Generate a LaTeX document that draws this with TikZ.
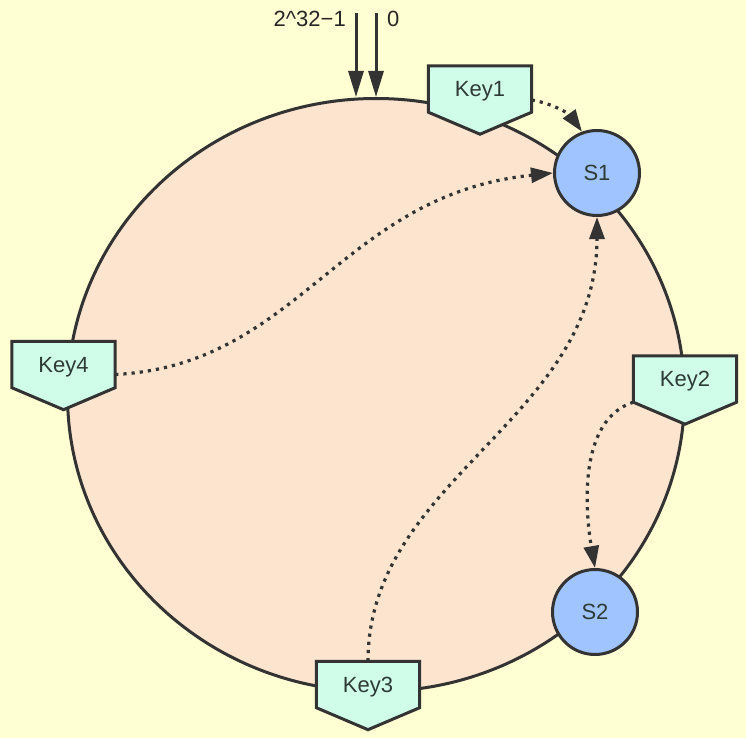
\documentclass[tikz,border=0pt]{standalone}
\usepackage{fontspec}
\setmainfont{Liberation Sans}
\usetikzlibrary{arrows.meta,shapes.geometric,calc}
\definecolor{bgc}{HTML}{FFFFD4}
\definecolor{ringc}{HTML}{FCE4CF}
\definecolor{keyc}{HTML}{D0FDEA}
\definecolor{srvc}{HTML}{A0C4FF}
\definecolor{inkc}{HTML}{333333}
\definecolor{txtc}{HTML}{2E3A36}
\pgfdeclarelayer{bg}
\pgfsetlayers{bg,main}
\begin{document}
\begin{tikzpicture}[x=1pt,y=-1pt,
  ink/.style={draw=inkc, line width=3pt},
  keytext/.style={rectangle, minimum width=103pt, minimum height=46pt, inner sep=0pt,
    text depth=0pt, font=\fontsize{22}{26}\selectfont, text=txtc},
  keyshape/.style={ink, fill=keyc, line join=miter},
  server/.style={circle, ink, fill=srvc, minimum size=85pt, inner sep=0pt,
    font=\fontsize{22}{26}\selectfont, text=txtc},
  ringstyle/.style={ellipse, ink, fill=ringc, minimum width=617pt, minimum height=593pt, inner sep=0pt},
  dotarrow/.style={draw=inkc, line width=3.2pt, dash pattern=on 3.2pt off 5pt,
    -{Triangle[length=22pt,width=15pt]}},
  toparrow/.style={draw=inkc, line width=3pt, -{Triangle[length=26pt,width=15pt]}},
  lbl/.style={inner sep=0pt, font=\fontsize{22}{26}\selectfont, text=black!85}
]
\useasboundingbox (0,0) rectangle (746,738);

\begin{pgfonlayer}{bg}
  \fill[bgc] (0,0) rectangle (746,738);
  \node[ringstyle] (ring) at (376,395) {};
\end{pgfonlayer}

% keys
\node[keytext] (k1) at (480,89) {Key1};
\node[keytext] (k2) at (685,379) {Key2};
\node[keytext] (k3) at (368,684.5) {Key3};
\node[keytext] (k4) at (63.5,364.5) {Key4};

\begin{pgfonlayer}{bg}
  \foreach \k in {k1,k2,k3,k4}{
    \draw[keyshape] (\k.north west) -- (\k.north east) -- (\k.south east)
      -- ($(\k.south)+(0,22)$) -- (\k.south west) -- cycle;
  }
\end{pgfonlayer}

% servers
\node[server] (s1) at (597,173) {S1};
\node[server] (s2) at (595,612) {S2};

% top markers
\coordinate (tmax) at (356,13);
\coordinate (tzero) at (376,13);
\draw[toparrow] (tmax) -- (tmax |- ring.north);
\draw[toparrow] (tzero) -- (ring.north);
\node[lbl, anchor=base east] (lmax) at (346,27) {2\textasciicircum32−1};
\node[lbl, anchor=base west] (lzero) at (387,27) {0};

% mappings
\draw[dotarrow] ($(k1.east)+(0,11)$) .. controls (555,104) and (570,115) .. (s1.110);
\draw[dotarrow] ($(k4.east)+(0,10)$) .. controls (300,365) and (340,195) .. (s1.west);
\draw[dotarrow] (k3.north) .. controls (368,480) and (597,420) .. (s1.south);
\draw[dotarrow] (k2.south west) .. controls (578,420) and (585,510) .. (s2.north);
\end{tikzpicture}
\end{document}
